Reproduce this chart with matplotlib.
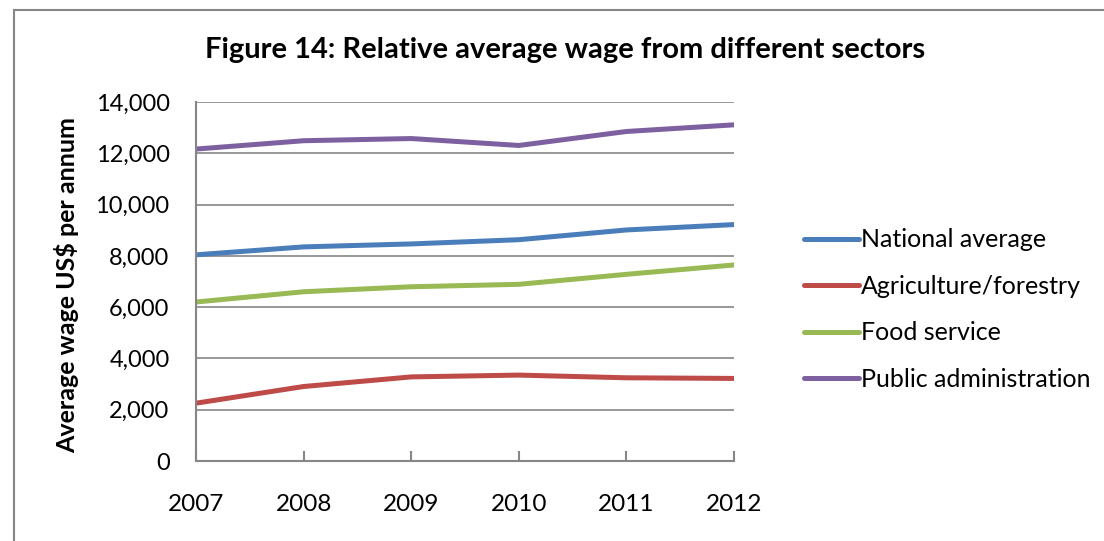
import matplotlib.pyplot as plt
from matplotlib.patches import Rectangle

# data
years = ["2007", "2008", "2009", "2010", "2011", "2012"]
national = [8040, 8350, 8465, 8630, 9010, 9220]
agriculture = [2255, 2905, 3280, 3350, 3245, 3220]
food = [6200, 6600, 6795, 6890, 7280, 7645]
public_admin = [12165, 12490, 12575, 12305, 12850, 13110]

names = ["National average", "Agriculture/forestry", "Food service", "Public administration"]
colors = ["#4A7EBB", "#BE4B48", "#98B954", "#7D60A0"]

plt.rcParams["font.family"] = ["Lato", "DejaVu Sans"]

fig = plt.figure(figsize=(11.04, 5.41), dpi=100)
ax = fig.add_axes([196 / 1104, 1 - 461 / 541, (734 - 196) / 1104, (461 - 102) / 541])

x = range(len(years))
for vals, name, c in zip([national, agriculture, food, public_admin], names, colors):
    ax.plot(x, vals, color=c, lw=3.6, label=name, solid_capstyle="round")

ax.set_xlim(0, len(years) - 1)
ax.set_ylim(0, 14000)
ax.set_yticks(range(0, 14001, 2000))
ax.set_yticklabels([f"{v:,}" for v in range(0, 14001, 2000)])
ax.set_xticks(list(x))
ax.set_xticklabels(years)
ax.grid(axis="y", color="#868686", lw=1.2)
ax.set_axisbelow(True)
for s in ["top", "right"]:
    ax.spines[s].set_visible(False)
for s in ["left", "bottom"]:
    ax.spines[s].set_color("#868686")
    ax.spines[s].set_linewidth(1.5)
ax.tick_params(axis="x", direction="in", length=7, color="#868686", width=1.5, pad=24, labelsize=17.5)
ax.tick_params(axis="y", length=0, pad=19, labelsize=17)

ax.set_ylabel("Average wage US$ per annum", fontsize=18, fontweight="bold")
ax.yaxis.set_label_coords(-0.2175, 0.49)

fig.text(565 / 1104, 1 - 50 / 541, "Figure 14: Relative average wage from different sectors",
         ha="center", va="center", fontsize=21, fontweight="bold")

ax.legend(loc="center left", bbox_to_anchor=(1.106, 0.422), frameon=False, fontsize=18,
          borderpad=0, handlelength=2.2, handletextpad=0.08, labelspacing=0.94)

# chart area border
fig.patches.append(Rectangle((14 / 1104, -0.1), 1.2, 1 - 10 / 541 + 0.1, transform=fig.transFigure,
                             fill=False, edgecolor="#868686", lw=1.5))

fig.savefig("out.png", dpi=100)
